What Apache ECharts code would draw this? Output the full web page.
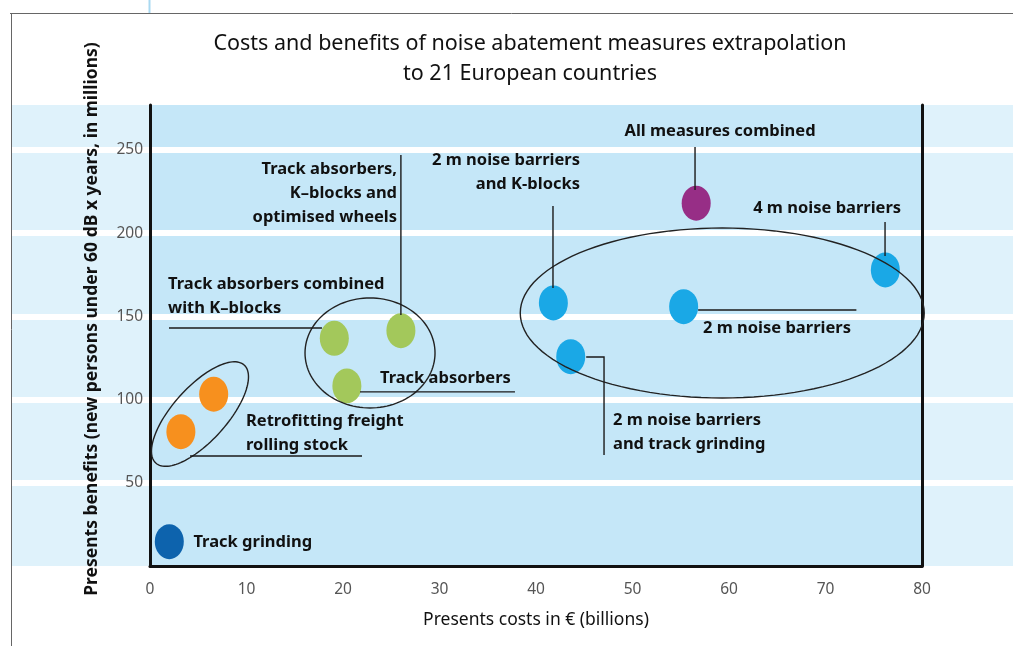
<!DOCTYPE html>
<html>
<head>
<meta charset="utf-8">
<script src="https://cdn.jsdelivr.net/npm/echarts@6/dist/echarts.min.js"></script>
<style>
  html, body { margin: 0; padding: 0; background: #fff; }
  #chart { width: 1013px; height: 646px; }
</style>
</head>
<body>
<div id="chart"></div>
<script>
// measures
const measures = [
  'Track grinding',
  'Retrofitting freight rolling stock (1)',
  'Retrofitting freight rolling stock (2)',
  'Track absorbers combined with K-blocks',
  'Track absorbers, K-blocks and optimised wheels',
  'Track absorbers',
  '2 m noise barriers and K-blocks',
  '2 m noise barriers and track grinding',
  '2 m noise barriers',
  '4 m noise barriers',
  'All measures combined'
]
const costs = [2.0, 3.2, 6.6, 19.1, 26.0, 20.4, 41.8, 43.6, 55.3, 76.2, 56.6]
const benefits = [14.6, 80.7, 103.2, 136.8, 141.4, 108.2, 158.1, 125.8, 155.8, 177.9, 218.0]
const groups = ['grinding', 'retrofit', 'retrofit', 'absorbers', 'absorbers', 'absorbers',
  'barriers', 'barriers', 'barriers', 'barriers', 'combined']

const xTicks = [0, 10, 20, 30, 40, 50, 60, 70, 80]
const yTicks = [50, 100, 150, 200, 250]

const groupColors = {
  grinding: '#0d63ad',
  retrofit: '#f7901e',
  absorbers: '#a3c85b',
  barriers: '#1aa8e6',
  combined: '#972e86'
}

// callouts: text anchor + leader line, in data units
const callouts = [
  { text: 'Track grinding', at: [4.5, 14.4], align: 'left' },
  { text: 'Retrofitting freight\nrolling stock', at: [9.95, 79.6], align: 'left', line: [[4.15, 66.1], [21.97, 66.1]] },
  { text: 'Track absorbers combined\nwith K–blocks', at: [1.87, 162.0], align: 'left', line: [[1.97, 143.0], [17.82, 143.0]] },
  { text: 'Track absorbers', at: [23.83, 113.0], align: 'left', line: [[21.76, 104.6], [37.82, 104.6]] },
  { text: 'Track absorbers,\nK–blocks and\noptimised wheels', at: [25.6, 224.2], align: 'right', line: [[26.0, 247.0], [26.0, 150.8]] },
  { text: '2 m noise barriers\nand K-blocks', at: [44.56, 236.8], align: 'right', line: [[41.76, 216.3], [41.76, 167.1]] },
  { text: 'All measures combined', at: [59.07, 261.4], align: 'center', line: [[56.48, 251.8], [56.48, 226.0]] },
  { text: '4 m noise barriers', at: [62.5, 215.1], align: 'left', line: [[76.17, 206.7], [76.17, 186.3]] },
  { text: '2 m noise barriers', at: [57.3, 143.0], align: 'left', line: [[56.8, 153.8], [73.2, 153.8]] },
  { text: '2 m noise barriers\nand track grinding', at: [47.98, 80.2], align: 'left', line: [[45.2, 125.6], [47.05, 125.6], [47.05, 66.7]] }
]

// group outlines: centre in data units, radii in px, tilt in degrees
const outlines = [
  { c: [5.18, 91.3], rx: 66, ry: 27, tilt: -48 },
  { c: [22.8, 128.0], rx: 65, ry: 55, tilt: 0 },
  { c: [59.3, 152.0], rx: 202, ry: 85, tilt: 0 }
]

const font = '"Noto Sans", "Open Sans", sans-serif'
const myChart = echarts.init(document.getElementById('chart'))

myChart.setOption({
  animation: false,
  graphic: [
    // page frame
    { type: 'line', z: 100, shape: { x1: 10, y1: 13.5, x2: 1013, y2: 13.5 }, style: { stroke: '#666', lineWidth: 1 } },
    { type: 'line', z: 100, shape: { x1: 11.5, y1: 13, x2: 11.5, y2: 646 }, style: { stroke: '#666', lineWidth: 1 } },
    { type: 'line', z: 100, shape: { x1: 149.5, y1: 0, x2: 149.5, y2: 13 }, style: { stroke: '#a9d9f1', lineWidth: 2 } },
    {
      type: 'text', z: 100, x: 530, y: 59,
      style: {
        text: 'Costs and benefits of noise abatement measures extrapolation\nto 21 European countries',
        align: 'center', verticalAlign: 'middle', lineHeight: 30,
        fontSize: 21.5, fontFamily: font, fill: '#111'
      }
    },
    {
      type: 'text', z: 100, x: 92, y: 319, rotation: Math.PI / 2,
      style: {
        text: 'Presents benefits (new persons under 60 dB x years, in millions)',
        align: 'center', verticalAlign: 'middle',
        fontSize: 17.5, fontWeight: 'bold', fontFamily: font, fill: '#111'
      }
    }
  ],
  grid: [
    // pale band behind the whole row
    { left: 12, right: 0, top: 105, bottom: 80, show: true, backgroundColor: '#dff2fb', borderWidth: 0 },
    // plot area
    { left: 150, right: 91, top: 105, bottom: 80, show: true, backgroundColor: '#c5e7f8', borderWidth: 0 }
  ],
  xAxis: [
    { gridIndex: 0, type: 'value', min: 0, max: 1, show: false },
    {
      gridIndex: 1, type: 'value', min: 0, max: 80, interval: 10,
      name: 'Presents costs in € (billions)', nameLocation: 'middle', nameGap: 45,
      nameTextStyle: { fontSize: 17.5, fontFamily: font, color: '#111' },
      axisLine: { show: true, lineStyle: { color: '#111', width: 3 } },
      axisTick: { show: false },
      splitLine: { show: false },
      axisLabel: {
        margin: 16, fontSize: 15.5, fontFamily: font, color: '#555',
        formatter: v => (xTicks.includes(v) ? String(v) : '')
      }
    }
  ],
  yAxis: [
    {
      gridIndex: 0, type: 'value', min: 0, max: 277, interval: 50,
      axisLine: { show: false }, axisTick: { show: false }, axisLabel: { show: false },
      splitLine: { show: true, showMinLine: false, showMaxLine: false, lineStyle: { color: '#fff', width: 6 } }
    },
    {
      gridIndex: 1, type: 'value', min: 0, max: 277, interval: 50,
      axisLine: { show: true, lineStyle: { color: '#111', width: 3 } },
      axisTick: { show: false },
      axisLabel: {
        margin: 7, fontSize: 15.5, fontFamily: font, color: '#555',
        showMinLabel: false, showMaxLabel: false,
        formatter: v => (yTicks.includes(v) ? String(v) : '')
      },
      splitLine: { show: true, showMinLine: false, showMaxLine: false, lineStyle: { color: '#fff', width: 6 } }
    },
    {
      gridIndex: 1, type: 'value', min: 0, max: 277, position: 'right',
      axisLine: { show: true, lineStyle: { color: '#111', width: 3 } },
      axisTick: { show: false }, axisLabel: { show: false }, splitLine: { show: false }
    }
  ],
  series: [
    {
      type: 'scatter',
      xAxisIndex: 1, yAxisIndex: 1,
      symbol: 'circle',
      symbolSize: [29, 35],
      silent: true,
      data: measures.map((name, i) => ({
        name,
        value: [costs[i], benefits[i]],
        itemStyle: { color: groupColors[groups[i]], opacity: 1 }
      }))
    },
    {
      type: 'custom',
      xAxisIndex: 1, yAxisIndex: 1,
      silent: true, clip: false, z: 3,
      data: outlines.map(o => o.c),
      renderItem: (params, api) => {
        const o = outlines[params.dataIndex]
        const [cx, cy] = api.coord(o.c)
        const t = o.tilt * Math.PI / 180
        const pts = []
        for (let k = 0; k <= 120; k++) {
          const a = k / 120 * Math.PI * 2
          const ex = o.rx * Math.cos(a), ey = o.ry * Math.sin(a)
          pts.push([cx + ex * Math.cos(t) - ey * Math.sin(t), cy + ex * Math.sin(t) + ey * Math.cos(t)])
        }
        return { type: 'polyline', shape: { points: pts }, style: { stroke: '#222', lineWidth: 1.4, fill: null } }
      }
    },
    {
      type: 'custom',
      xAxisIndex: 1, yAxisIndex: 1,
      silent: true, clip: false, z: 4,
      data: callouts.map(c => c.at),
      renderItem: (params, api) => {
        const c = callouts[params.dataIndex]
        const children = []
        if (c.line) {
          children.push({
            type: 'polyline',
            shape: { points: c.line.map(p => api.coord(p)) },
            style: { stroke: '#1a1a1a', lineWidth: 1.4, fill: null }
          })
        }
        const [tx, ty] = api.coord(c.at)
        children.push({
          type: 'text', x: tx, y: ty,
          style: {
            text: c.text, align: c.align, verticalAlign: 'middle', lineHeight: 24,
            fontSize: 16.5, fontWeight: 'bold', fontFamily: font, fill: '#111'
          }
        })
        return { type: 'group', children }
      }
    }
  ]
})
</script>
</body>
</html>
